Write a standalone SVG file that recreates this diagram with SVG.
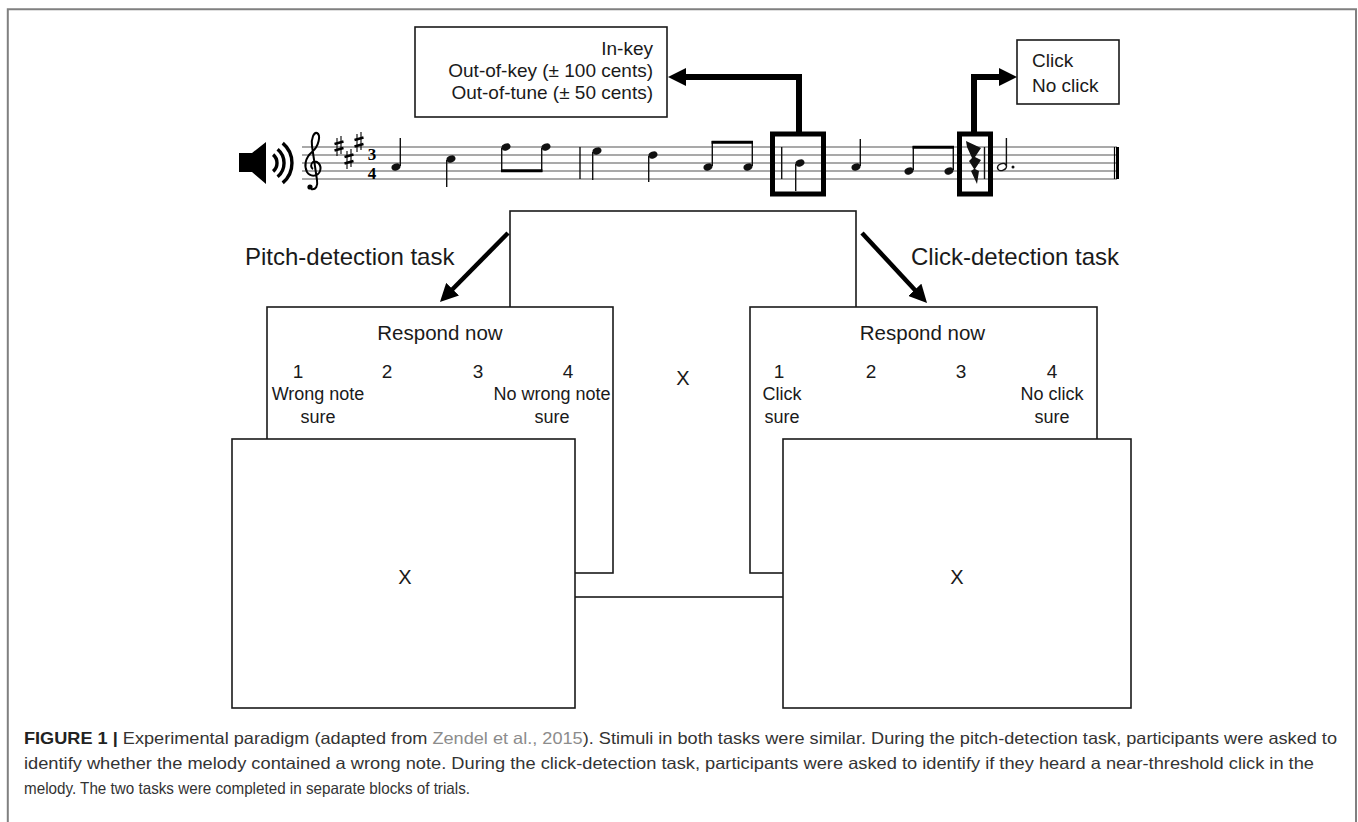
<svg xmlns="http://www.w3.org/2000/svg" width="1358" height="822" viewBox="0 0 1358 822">
<style>
.t{font-family:"Liberation Sans",Arial,sans-serif;fill:#1a1a1a}
.box{fill:#fff;stroke:#1a1a1a;stroke-width:1.6}
.staff{stroke:#555;stroke-width:1.2}
.stem{stroke:#111;stroke-width:1.4}
.hl{fill:none;stroke:#000;stroke-width:5}
.thick{fill:none;stroke:#000;stroke-width:6;stroke-linejoin:miter}
.diag{fill:none;stroke:#000;stroke-width:4.5}
.cap{font-family:"Liberation Sans",Arial,sans-serif;font-size:16.5px;fill:#333}
</style>
<defs>
<marker id="ah" viewBox="0 0 18 18" refX="4" refY="9" markerWidth="18" markerHeight="18" markerUnits="userSpaceOnUse" orient="auto"><path d="M0,0 L18,9 L0,18 z" fill="#000"/></marker>
<marker id="ah2" viewBox="0 0 18 18" refX="4" refY="9" markerWidth="18" markerHeight="18" markerUnits="userSpaceOnUse" orient="auto"><path d="M0,0 L18,9 L0,18 z" fill="#000"/></marker>
<ellipse id="nh" cx="0" cy="0" rx="4.6" ry="3.4" transform="rotate(-22)" fill="#111"/>
</defs>

<!-- outer frame -->
<g id="frame" stroke="#808080" stroke-width="2" fill="none">
<path d="M7.8 822 V9.2 H1356 V822"/>
</g>

<!-- option boxes -->
<g id="pitch-options">
<rect class="box" x="415" y="27" width="252" height="90"/>
<text class="t" font-size="19" text-anchor="end" x="653" y="55">In-key</text>
<text class="t" font-size="19" text-anchor="end" x="653" y="77">Out-of-key (± 100 cents)</text>
<text class="t" font-size="19" text-anchor="end" x="653" y="99">Out-of-tune (± 50 cents)</text>
</g>
<g id="click-options">
<rect class="box" x="1017" y="40" width="102" height="64"/>
<text class="t" font-size="19" x="1032" y="67">Click</text>
<text class="t" font-size="19" x="1032" y="92">No click</text>
</g>

<!-- melody -->
<g id="melody">
<g id="speaker">
<path d="M239 153 H252 L266 142 V184 L252 172 H239 Z" fill="#000"/>
<g fill="none" stroke="#000" stroke-width="3.4">
<path d="M273.1 154.6 A11 11 0 0 1 273.1 171.4"/>
<path d="M277.6 149.2 A18 18 0 0 1 277.6 176.8"/>
<path d="M282.7 143.1 A26 26 0 0 1 282.7 182.9"/>
</g>
</g>
<g id="staff">
<line class="staff" x1="302" y1="147" x2="1117" y2="147"/>
<line class="staff" x1="302" y1="155" x2="1117" y2="155"/>
<line class="staff" x1="302" y1="163" x2="1117" y2="163"/>
<line class="staff" x1="302" y1="171" x2="1117" y2="171"/>
<line class="staff" x1="302" y1="179" x2="1117" y2="179"/>
</g>
<!-- treble clef -->
<g id="clef" fill="none" stroke="#000">
<path d="M311 189 C316 190 318 186 317 180 L312 146 C311 138 314 132 317 133 C321 135 319 146 312 152 C305 158 304 166 307 172 C310 177 318 177 320 171 C322 165 317 160 313 162 C310 164 311 168 313 169" stroke-width="2"/>
<circle cx="310" cy="187" r="2.6" fill="#000" stroke="none"/>
</g>
<!-- key signature -->
<g id="keysig" stroke="#000">
<g transform="translate(339,146)"><line x1="-2" y1="-8" x2="-2" y2="10" stroke-width="1.1"/><line x1="2" y1="-10" x2="2" y2="8" stroke-width="1.1"/><line x1="-4.5" y1="-2" x2="4.5" y2="-4.5" stroke-width="2.4"/><line x1="-4.5" y1="4.5" x2="4.5" y2="2" stroke-width="2.4"/></g>
<g transform="translate(349,159)"><line x1="-2" y1="-8" x2="-2" y2="10" stroke-width="1.1"/><line x1="2" y1="-10" x2="2" y2="8" stroke-width="1.1"/><line x1="-4.5" y1="-2" x2="4.5" y2="-4.5" stroke-width="2.4"/><line x1="-4.5" y1="4.5" x2="4.5" y2="2" stroke-width="2.4"/></g>
<g transform="translate(359,142)"><line x1="-2" y1="-8" x2="-2" y2="10" stroke-width="1.1"/><line x1="2" y1="-10" x2="2" y2="8" stroke-width="1.1"/><line x1="-4.5" y1="-2" x2="4.5" y2="-4.5" stroke-width="2.4"/><line x1="-4.5" y1="4.5" x2="4.5" y2="2" stroke-width="2.4"/></g>
</g>
<text id="timesig" font-family="Liberation Serif,serif" font-weight="bold" font-size="17" text-anchor="middle" fill="#000"><tspan x="372" y="160">3</tspan><tspan x="372" y="179">4</tspan></text>
<!-- measure 1 -->
<use href="#nh" x="396" y="167"/><line class="stem" x1="400.3" y1="166" x2="400.3" y2="138"/>
<use href="#nh" x="451" y="159"/><line class="stem" x1="446.7" y1="160" x2="446.7" y2="187"/>
<use href="#nh" x="506" y="147"/><line class="stem" x1="501.7" y1="148" x2="501.7" y2="172"/>
<use href="#nh" x="546" y="147"/><line class="stem" x1="541.7" y1="148" x2="541.7" y2="172"/>
<line x1="501" y1="170.8" x2="542.4" y2="170.8" stroke="#000" stroke-width="3"/>
<line class="stem" x1="580" y1="147" x2="580" y2="179"/>
<!-- measure 2 -->
<use href="#nh" x="597" y="151"/><line class="stem" x1="592.7" y1="152" x2="592.7" y2="180"/>
<use href="#nh" x="653" y="155"/><line class="stem" x1="648.7" y1="156" x2="648.7" y2="182"/>
<use href="#nh" x="708" y="167"/><line class="stem" x1="712.3" y1="166" x2="712.3" y2="141"/>
<use href="#nh" x="748" y="167"/><line class="stem" x1="752.3" y1="166" x2="752.3" y2="141"/>
<line x1="711.6" y1="142.2" x2="753" y2="142.2" stroke="#000" stroke-width="3"/>
<line class="stem" x1="781.7" y1="147" x2="781.7" y2="179"/>
<!-- measure 3 -->
<use href="#nh" x="800" y="163"/><line class="stem" x1="795.7" y1="164" x2="795.7" y2="191"/>
<use href="#nh" x="856" y="167"/><line class="stem" x1="860.3" y1="166" x2="860.3" y2="139"/>
<use href="#nh" x="909" y="171"/><line class="stem" x1="913.3" y1="170" x2="913.3" y2="146"/>
<use href="#nh" x="949" y="171"/><line class="stem" x1="953.3" y1="170" x2="953.3" y2="146"/>
<line x1="912.6" y1="147.2" x2="954" y2="147.2" stroke="#000" stroke-width="3"/>
<path id="bolt" d="M966 141 L981 148 L975 157 L981 160 L975 169 L979 171 L977 184 L971 171 L974 169 L969 161 L972 158 L967 147 Z" fill="#111"/>
<line class="stem" x1="984.5" y1="147" x2="984.5" y2="179"/>
<!-- measure 4 -->
<ellipse cx="1002" cy="167" rx="4.6" ry="3.4" transform="rotate(-22 1002 167)" fill="none" stroke="#111" stroke-width="1.5"/>
<line class="stem" x1="1006.4" y1="166" x2="1006.4" y2="138"/>
<circle cx="1013" cy="167" r="1.5" fill="#111"/>
<line x1="1114.5" y1="147" x2="1114.5" y2="179" stroke="#000" stroke-width="1.2"/>
<line x1="1117.5" y1="147" x2="1117.5" y2="179" stroke="#000" stroke-width="3"/>
<!-- highlight boxes -->
<rect class="hl" x="772.5" y="134" width="51" height="60"/>
<rect class="hl" x="959.5" y="134" width="31" height="60"/>
</g>

<!-- screens -->
<g id="fixation-center">
<rect class="box" x="510" y="211" width="346" height="386"/>
<text class="t" font-size="20" text-anchor="middle" x="683" y="385">X</text>
</g>
<g id="pitch-response">
<rect class="box" x="267" y="307" width="346" height="266"/>
<text class="t" font-size="20.5" text-anchor="middle" x="440" y="340">Respond now</text>
<g font-size="19" text-anchor="middle">
<text class="t" x="298" y="378">1</text>
<text class="t" x="387" y="378">2</text>
<text class="t" x="478" y="378">3</text>
<text class="t" x="568" y="378">4</text>
</g>
<g font-size="18" text-anchor="middle">
<text class="t" x="318" y="400">Wrong note</text>
<text class="t" x="318" y="423">sure</text>
<text class="t" x="552" y="400">No wrong note</text>
<text class="t" x="552" y="423">sure</text>
</g>
</g>
<g id="click-response">
<rect class="box" x="750" y="307" width="347" height="266"/>
<text class="t" font-size="20.5" text-anchor="middle" x="922.5" y="340">Respond now</text>
<g font-size="19" text-anchor="middle">
<text class="t" x="779" y="378">1</text>
<text class="t" x="871" y="378">2</text>
<text class="t" x="961" y="378">3</text>
<text class="t" x="1052" y="378">4</text>
</g>
<g font-size="18" text-anchor="middle">
<text class="t" x="782" y="400">Click</text>
<text class="t" x="782" y="423">sure</text>
<text class="t" x="1052" y="400">No click</text>
<text class="t" x="1052" y="423">sure</text>
</g>
</g>
<g id="pitch-fixation">
<rect class="box" x="232" y="439" width="343" height="269"/>
<text class="t" font-size="20" text-anchor="middle" x="405" y="584">X</text>
</g>
<g id="click-fixation">
<rect class="box" x="783" y="439" width="348" height="269"/>
<text class="t" font-size="20" text-anchor="middle" x="957" y="584">X</text>
</g>

<!-- task labels -->
<text id="pitch-label" class="t" font-size="24" x="245" y="265">Pitch-detection task</text>
<text id="click-label" class="t" font-size="24" x="911" y="265">Click-detection task</text>

<!-- connectors -->
<g id="connectors">
<path class="thick" d="M799 132 V77 H682" marker-end="url(#ah)"/>
<path class="thick" d="M974 132 V77 H1003" marker-end="url(#ah)"/>
<line class="diag" x1="508" y1="233" x2="449.8" y2="292" marker-end="url(#ah2)"/>
<line class="diag" x1="862" y1="233" x2="917.5" y2="292.7" marker-end="url(#ah2)"/>
</g>

<!-- caption -->
<g id="caption">
<text class="cap" x="24" y="744" textLength="1313" lengthAdjust="spacingAndGlyphs"><tspan font-weight="bold" fill="#222">FIGURE 1 |</tspan> Experimental paradigm (adapted from <tspan fill="#8c8c8c">Zendel et al., 2015</tspan>). Stimuli in both tasks were similar. During the pitch-detection task, participants were asked to</text>
<text class="cap" x="24" y="769" textLength="1290" lengthAdjust="spacingAndGlyphs">identify whether the melody contained a wrong note. During the click-detection task, participants were asked to identify if they heard a near-threshold click in the</text>
<text class="cap" x="24" y="794" textLength="446" lengthAdjust="spacingAndGlyphs">melody. The two tasks were completed in separate blocks of trials.</text>
</g>
</svg>
